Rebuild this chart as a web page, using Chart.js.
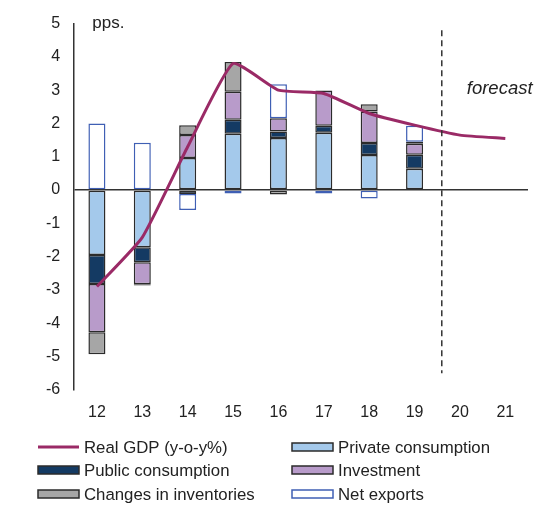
<!DOCTYPE html>
<html>
<head>
<meta charset="utf-8">
<script src="https://cdn.jsdelivr.net/npm/chart.js@4"></script>
<style>
  html, body { margin: 0; padding: 0; background: #fff; }
  #wrap { width: 552px; height: 506px; }
</style>
</head>
<body>
<div id="wrap"><canvas id="gdpChart" width="552" height="506"></canvas></div>
<script>
// Contributions to GDP growth (pps.)
const years = ['12', '13', '14', '15', '16', '17', '18', '19', '20', '21'];
const realGdp = [-2.9, -1.42, 1.3, 3.8, 3.0, 2.9, 2.3, 1.95, 1.65, 1.55];
const privateCons = [-1.95, -1.72, 0.96, 1.69, 1.56, 1.72, 1.05, 0.64, null, null];
const publicCons = [-0.87, -0.45, -0.12, 0.42, 0.2, 0.21, 0.36, 0.42, null, null];
const investment = [-1.45, -0.66, 0.69, 0.84, 0.4, 1.06, 0.95, 0.33, null, null];
const inventories = [-0.66, -0.04, 0.3, 0.9, -0.13, 0, 0.22, 0.06, null, null];
const netExports = [2.0, 1.42, -0.48, -0.1, 1.02, -0.1, -0.25, 0.48, null, null];
const yTicks = [5, 4, 3, 2, 1, 0, -1, -2, -3, -4, -5, -6];

const FONT = '"Liberation Sans", Arial, sans-serif';
const GDP_COLOR = '#9a2a66';

function barSet(label, data, fill, border) {
  return {
    type: 'bar',
    label: label,
    data: data,
    backgroundColor: fill,
    borderColor: border || '#2b2b2b',
    borderWidth: 1.5,
    borderSkipped: false,
    barPercentage: 0.75,
    categoryPercentage: 0.5,
    stack: 'c',
    order: 1
  };
}

// legend + annotations drawn by hand (2-column legend)
const extras = {
  id: 'extras',
  afterDraw(chart) {
    const c = chart.ctx;
    const x = chart.scales.x, y = chart.scales.y;
    c.save();
    // forecast divider
    const fx = x.getPixelForValue(7.6);
    c.strokeStyle = '#333';
    c.lineWidth = 1.5;
    c.setLineDash([6, 4]);
    c.beginPath();
    c.moveTo(fx, y.getPixelForValue(4.8));
    c.lineTo(fx, y.getPixelForValue(-5.5));
    c.stroke();
    c.setLineDash([]);

    c.fillStyle = '#222';
    c.textBaseline = 'middle';
    c.textAlign = 'left';
    c.font = '17px ' + FONT;
    c.fillText('pps.', chart.chartArea.left + 18, y.getPixelForValue(5));
    c.font = 'italic 18.5px ' + FONT;
    c.fillText('forecast', fx + 25, y.getPixelForValue(3.05));

    // legend
    const items = [
      { t: 'Real GDP (y-o-y%)', line: true },
      { t: 'Private consumption', f: '#a4c9eb', b: '#2b2b2b' },
      { t: 'Public consumption', f: '#143a63', b: '#2b2b2b' },
      { t: 'Investment', f: '#b89bca', b: '#2b2b2b' },
      { t: 'Changes in inventories', f: '#a6a6a6', b: '#2b2b2b' },
      { t: 'Net exports', f: '#ffffff', b: '#3f5fb4' }
    ];
    const colX = [38, 292], rowY = [447, 470, 494];
    c.font = '16.8px ' + FONT;
    items.forEach((it, i) => {
      const sx = colX[i % 2], sy = rowY[Math.floor(i / 2)];
      if (it.line) {
        c.strokeStyle = GDP_COLOR;
        c.lineWidth = 3;
        c.beginPath();
        c.moveTo(sx, sy);
        c.lineTo(sx + 41, sy);
        c.stroke();
      } else {
        c.fillStyle = it.f;
        c.fillRect(sx, sy - 4, 41, 8);
        c.strokeStyle = it.b;
        c.lineWidth = 1.5;
        c.strokeRect(sx, sy - 4, 41, 8);
      }
      c.fillStyle = '#222';
      c.fillText(it.t, sx + 46, sy + 1);
    });
    c.restore();
  }
};

const ctx = document.getElementById('gdpChart').getContext('2d');
const chart = new Chart(ctx, {
  data: {
    labels: years,
    datasets: [
      {
        type: 'line',
        label: 'Real GDP (y-o-y%)',
        data: realGdp,
        borderColor: GDP_COLOR,
        borderWidth: 3,
        pointRadius: 0,
        fill: false,
        tension: 0.15,
        order: 0
      },
      barSet('Private consumption', privateCons, '#a4c9eb'),
      barSet('Public consumption', publicCons, '#143a63'),
      barSet('Investment', investment, '#b89bca'),
      barSet('Changes in inventories', inventories, '#a6a6a6'),
      barSet('Net exports', netExports, '#ffffff', '#3f5fb4')
    ]
  },
  options: {
    responsive: false,
    animation: false,
    layout: { padding: { top: 16, right: 24, bottom: 79, left: 32 } },
    plugins: {
      legend: { display: false },
      tooltip: { enabled: false }
    },
    scales: {
      x: {
        stacked: true,
        grid: { display: false },
        border: { display: false },
        ticks: { color: '#222', font: { family: FONT, size: 16 }, padding: 5 }
      },
      y: {
        stacked: true,
        min: -6,
        max: 5,
        afterBuildTicks(axis) { axis.ticks = yTicks.map(v => ({ value: v })); },
        grid: {
          drawTicks: false,
          color: c => c.tick && c.tick.value === 0 ? '#333' : 'rgba(0,0,0,0)',
          lineWidth: 1.5
        },
        border: { display: true, color: '#333', width: 1.5 },
        ticks: { color: '#222', font: { family: FONT, size: 16 }, padding: 14 }
      }
    }
  },
  plugins: [extras]
});
</script>
</body>
</html>
